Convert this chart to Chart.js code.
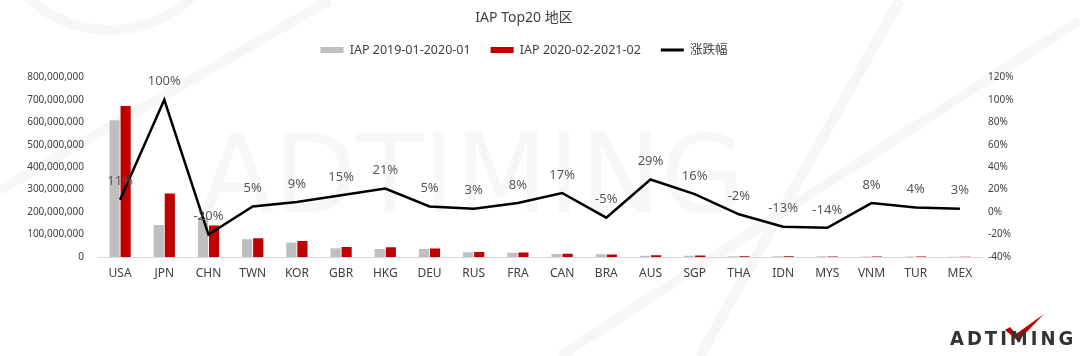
<!DOCTYPE html>
<html>
<head>
<meta charset="utf-8">
<script src="https://cdn.jsdelivr.net/npm/chart.js@4/dist/chart.umd.min.js"></script>
<style>
  html,body{margin:0;padding:0;background:#fff;}
  #wrap{position:relative;width:1080px;height:356px;overflow:hidden;}
  canvas{position:absolute;left:0;top:0;}
  #logo{position:absolute;left:950px;top:328px;line-height:20px;font-family:"DejaVu Sans Condensed","Liberation Sans Narrow",sans-serif;font-weight:bold;font-size:20px;letter-spacing:3px;color:#333;}
</style>
</head>
<body>
<div id="wrap">
<canvas id="c" width="1080" height="356"></canvas>
<div id="logo">ADTIMING</div>
</div>
<script>
const categories = ["USA","JPN","CHN","TWN","KOR","GBR","HKG","DEU","RUS","FRA","CAN","BRA","AUS","SGP","THA","IDN","MYS","VNM","TUR","MEX"];
const iap2019 = [609000000,142000000,176000000,79000000,65000000,39000000,36000000,36000000,21000000,19000000,13000000,12000000,6000000,6000000,3500000,3200000,3000000,2500000,2000000,1600000];
const iap2020 = [672000000,283000000,140000000,83000000,71000000,45000000,43000000,38000000,22000000,20500000,15000000,11500000,7500000,7000000,3400000,2800000,2600000,2700000,2100000,1650000];
const growth = [11,100,-20,5,9,15,21,5,3,8,17,-5,29,16,-2,-13,-14,8,4,3];
const leftTicks = [0,100000000,200000000,300000000,400000000,500000000,600000000,700000000,800000000];
const rightTicks = [-40,-20,0,20,40,60,80,100,120];

const FONT = '"Noto Sans","Noto Sans CJK SC",sans-serif';

const bgPlugin = {
  id:'bg',
  beforeInit(chart){
    Chart.layouts.addBox(chart, {
      position:'top', weight:0, fullSize:true, options:{},
      left:0, top:0, right:0, bottom:0, width:0, height:0,
      isHorizontal(){ return true; },
      update(maxW){ this.width = maxW; this.height = 11; },
      draw(){}
    });
  },
  beforeDraw(chart){
    const ctx = chart.ctx;
    ctx.save();
    ctx.fillStyle = '#fff';
    ctx.fillRect(0,0,chart.width,chart.height);
    ctx.strokeStyle = '#f7f7f7';
    ctx.lineWidth = 10;
    ctx.beginPath(); ctx.arc(110,-90,120,0.2,Math.PI-0.2); ctx.stroke();
    ctx.beginPath(); ctx.moveTo(0,190); ctx.lineTo(330,0); ctx.stroke();
    ctx.beginPath(); ctx.moveTo(700,356); ctx.lineTo(900,0); ctx.stroke();
    ctx.beginPath(); ctx.moveTo(1080,20); ctx.lineTo(560,356); ctx.stroke();
    ctx.fillStyle = '#f7f7f7';
    ctx.font = '108px "DejaVu Sans"';
    ctx.textBaseline = 'alphabetic';
    ctx.textAlign = 'left';
    ctx.fillText('ADTIMING', 200, 212);
    ctx.restore();
  }
};

const labelPlugin = {
  id:'lbl',
  afterDatasetsDraw(chart){
    const ctx = chart.ctx;
    const meta = chart.getDatasetMeta(2);
    ctx.save();
    ctx.font = '13px ' + FONT;
    ctx.fillStyle = '#595959';
    ctx.textAlign = 'center';
    ctx.textBaseline = 'middle';
    meta.data.forEach((pt,i)=>{
      ctx.fillText(growth[i] + '%', pt.x, pt.y - 18);
    });
    ctx.restore();
  },
  afterDraw(chart){
    const ctx = chart.ctx;
    ctx.save();
    ctx.fillStyle = '#c00000';
    ctx.beginPath();
    ctx.moveTo(1005,330); ctx.lineTo(1010,327); ctx.lineTo(1016,334); ctx.lineTo(1044,314); ctx.lineTo(1018,341); ctx.closePath();
    ctx.fill();
    ctx.restore();
  }
};

new Chart(document.getElementById('c'), {
  data:{
    labels: categories,
    datasets:[
      {type:'bar', label:'IAP 2019-01-2020-01', data: iap2019, backgroundColor:'#bfbfbf', yAxisID:'y', order:2, barPercentage:0.92, categoryPercentage:0.5},
      {type:'bar', label:'IAP 2020-02-2021-02', data: iap2020, backgroundColor:'#c00000', yAxisID:'y', order:2, barPercentage:0.92, categoryPercentage:0.5},
      {type:'line', label:'涨跌幅', data: growth, borderColor:'#000', backgroundColor:'#000', borderWidth:2.5, pointRadius:0, tension:0, yAxisID:'y1', order:1}
    ]
  },
  options:{
    responsive:false,
    animation:false,
    layout:{padding:{left:0,right:32,top:0,bottom:0}},
    plugins:{
      title:{display:true, text:'IAP Top20 地区', color:'#404040', font:{family:FONT,size:14,weight:'normal'}, padding:{top:10,bottom:-3}},
      legend:{display:true, labels:{color:'#404040', font:{family:FONT,size:12.5}, usePointStyle:true, pointStyleWidth:23, boxHeight:6, padding:20,
        sort:(a,b)=>a.datasetIndex-b.datasetIndex,
        generateLabels(chart){
          const items = Chart.defaults.plugins.legend.labels.generateLabels(chart);
          items.forEach(it=>{
            if(it.datasetIndex<2){ it.pointStyle='rect'; it.lineWidth=0; it.strokeStyle=it.fillStyle; }
            else { it.pointStyle='line'; it.strokeStyle='#000'; it.lineWidth=3; }
          });
          return items;
        }}},
      tooltip:{enabled:false}
    },
    scales:{
      x:{
        grid:{display:false, drawTicks:false},
        border:{display:true, color:'#d9d9d9', width:1},
        ticks:{color:'#404040', font:{family:FONT,size:12}, padding:9},
        afterFit(s){ s.height = 99; }
      },
      y:{
        position:'left', min:0, max:800000000,
        afterBuildTicks(s){ s.ticks = leftTicks.map(v=>({value:v})); },
        grid:{display:false, drawTicks:false}, border:{display:false},
        ticks:{color:'#404040', font:{family:FONT,size:10}, padding:14, callback:v=>v.toLocaleString('en-US')},
        afterFit(s){ s.width = 98; }
      },
      y1:{
        position:'right', min:-40, max:120,
        afterBuildTicks(s){ s.ticks = rightTicks.map(v=>({value:v})); },
        grid:{display:false, drawTicks:false}, border:{display:false},
        ticks:{color:'#404040', font:{family:FONT,size:10}, padding:6, callback:v=>v+'%'},
        afterFit(s){ s.width = 66; }
      }
    }
  },
  plugins:[bgPlugin, labelPlugin]
});
</script>
</body>
</html>
